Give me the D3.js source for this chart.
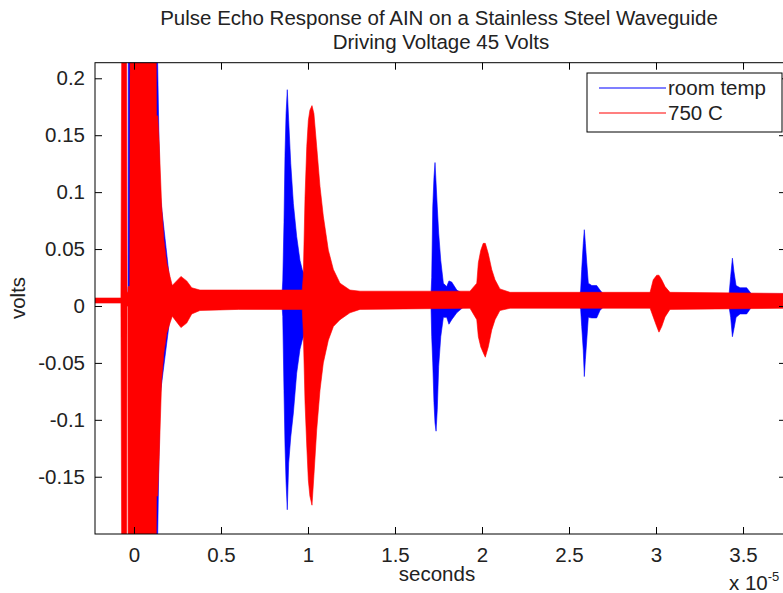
<!DOCTYPE html>
<html>
<head>
<meta charset="utf-8">
<script src="https://cdn.jsdelivr.net/npm/d3@7"></script>
<style>
  body { margin: 0; background: #fff; }
  text { font-family: "Liberation Sans", Arial, sans-serif; fill: #222; }
</style>
</head>
<body>
<svg width="783" height="593"></svg>
<script>
// time in units of 1e-5 s, envelope of the (dense) signal in volts
const roomTime = [-0.224, -0.075, -0.034, -0.032, -0.024, -0.022, 0.126, 0.149, 0.207, 0.264,
  0.851, 0.855, 0.862, 0.868, 0.874, 0.881, 0.889, 0.901, 0.916, 0.935, 0.954, 0.967, 1.000, 1.040,
  1.707, 1.711, 1.717, 1.724, 1.730, 1.736, 1.743, 1.751, 1.763, 1.778, 1.797, 1.810, 1.826, 1.855, 1.893,
  2.563, 2.567, 2.573, 2.582, 2.588, 2.594, 2.602, 2.611, 2.631, 2.659, 2.678, 2.697,
  3.420, 3.429, 3.439, 3.448, 3.460, 3.483, 3.521, 3.549, 3.760];
const roomUpper = [0.0065, 0.0065, 0.010, 0.30, 0.30, 0.30, 0.30, 0.10, 0.020, 0.011,
  0.011, 0.022, 0.073, 0.134, 0.169, 0.190, 0.163, 0.125, 0.090, 0.061, 0.040, 0.032, 0.020, 0.011,
  0.011, 0.025, 0.087, 0.113, 0.126, 0.108, 0.087, 0.064, 0.040, 0.020, 0.017, 0.022, 0.021, 0.014, 0.0105,
  0.0105, 0.014, 0.032, 0.055, 0.067, 0.055, 0.038, 0.020, 0.018, 0.018, 0.014, 0.0105,
  0.0105, 0.026, 0.042, 0.030, 0.018, 0.016, 0.016, 0.0105, 0.0105];
const roomLower = [0.003, 0.003, 0.000, 0.017, 0.017, -0.30, -0.30, -0.08, -0.010, -0.001,
  -0.001, -0.009, -0.074, -0.123, -0.155, -0.179, -0.138, -0.115, -0.094, -0.059, -0.038, -0.030, -0.015, -0.001,
  -0.001, -0.027, -0.050, -0.085, -0.103, -0.110, -0.091, -0.053, -0.027, -0.010, -0.010, -0.016, -0.012, -0.006, -0.001,
  -0.001, -0.003, -0.018, -0.039, -0.062, -0.047, -0.030, -0.010, -0.0105, -0.0105, -0.004, -0.001,
  -0.001, -0.010, -0.027, -0.020, -0.010, -0.007, -0.007, -0.001, -0.001];

const hotTime = [-0.224, -0.075, -0.069, -0.043, -0.040, -0.035, -0.033, -0.024, -0.022, 0.126,
  0.129, 0.136, 0.145, 0.159, 0.172, 0.188, 0.207, 0.220, 0.245, 0.270, 0.303, 0.332, 0.379, 0.600,
  0.967, 0.973, 0.983, 0.993, 1.002, 1.011, 1.023, 1.034, 1.050, 1.069, 1.088, 1.117, 1.146, 1.184, 1.241, 1.299,
  1.931, 1.970, 1.979, 1.993, 2.007, 2.019, 2.036, 2.056, 2.075, 2.103, 2.161,
  2.966, 2.984, 3.004, 3.017, 3.033, 3.052, 3.080, 3.760];
const hotUpper = [0.007, 0.007, 0.30, 0.30, 0.012, 0.012, 0.017, 0.017, 0.30, 0.30,
  0.167, 0.167, 0.143, 0.088, 0.058, 0.038, 0.026, 0.018, 0.022, 0.026, 0.022, 0.016, 0.014, 0.014,
  0.014, 0.026, 0.096, 0.140, 0.163, 0.172, 0.176, 0.169, 0.140, 0.105, 0.079, 0.049, 0.032, 0.020, 0.014, 0.013,
  0.013, 0.020, 0.038, 0.049, 0.055, 0.055, 0.046, 0.032, 0.023, 0.015, 0.012,
  0.012, 0.023, 0.027, 0.027, 0.023, 0.017, 0.012, 0.011];
const hotLower = [0.0026, 0.0026, -0.30, -0.30, 0.000, 0.000, -0.30, -0.30, -0.30, -0.30,
  -0.167, -0.167, -0.132, -0.065, -0.041, -0.024, -0.015, -0.009, -0.014, -0.019, -0.015, -0.007, -0.004, -0.003,
  -0.003, -0.022, -0.085, -0.123, -0.153, -0.167, -0.175, -0.149, -0.109, -0.074, -0.050, -0.030, -0.018, -0.012, -0.006, -0.003,
  -0.002, -0.012, -0.027, -0.036, -0.041, -0.045, -0.036, -0.021, -0.012, -0.004, -0.002,
  -0.002, -0.0096, -0.018, -0.023, -0.018, -0.0096, -0.003, -0.002];

const xTicks = [0, 0.5, 1, 1.5, 2, 2.5, 3, 3.5];
const yTicks = [-0.15, -0.1, -0.05, 0, 0.05, 0.1, 0.15, 0.2];
const seriesNames = ['room temp', '750 C'];
const seriesColors = ['#0000ff', '#ff0000'];

const svg = d3.select('svg');
const plotLeft = 95, plotRight = 786, plotTop = 62.7, plotBottom = 534;
const fontSize = 20.5;

const x = d3.scaleLinear().domain([-0.224, 3.747]).range([plotLeft, plotRight]);
const y = d3.scaleLinear().domain([-0.2003, 0.2137]).range([plotBottom, plotTop]);

svg.append('rect').attr('width', 783).attr('height', 593).attr('fill', '#fff');

svg.append('clipPath').attr('id', 'plot')
  .append('rect')
  .attr('x', plotLeft).attr('y', plotTop)
  .attr('width', plotRight - plotLeft).attr('height', plotBottom - plotTop);

const toRows = (t, hi, lo) => t.map((d, i) => ({ t: d, hi: hi[i], lo: lo[i] }));
const series = [toRows(roomTime, roomUpper, roomLower), toRows(hotTime, hotUpper, hotLower)];

const area = d3.area()
  .x((d) => x(d.t))
  .y0((d) => y(d.lo))
  .y1((d) => y(d.hi));

svg.append('g').attr('clip-path', 'url(#plot)')
  .selectAll('path')
  .data(series)
  .join('path')
  .attr('d', area)
  .attr('fill', (d, i) => seriesColors[i])
  .attr('stroke', (d, i) => seriesColors[i])
  .attr('stroke-width', 0.6);

// axes, ticks pointing inward on all four sides
const fmt = (d) => String(d);
const styleAxis = (g) => {
  g.select('.domain').remove();
  g.selectAll('line').attr('stroke', '#000');
  g.selectAll('text').attr('font-size', fontSize).attr('fill', '#222')
    .attr('font-family', '"Liberation Sans", Arial, sans-serif');
};

svg.append('g').attr('transform', `translate(0,${plotBottom})`)
  .call(d3.axisBottom(x).tickValues(xTicks).tickFormat(fmt).tickSizeInner(-7).tickPadding(13))
  .call(styleAxis);
svg.append('g').attr('transform', `translate(0,${plotTop})`)
  .call(d3.axisTop(x).tickValues(xTicks).tickFormat('').tickSizeInner(-7))
  .call(styleAxis);
svg.append('g').attr('transform', `translate(${plotLeft},0)`)
  .call(d3.axisLeft(y).tickValues(yTicks).tickFormat(fmt).tickSizeInner(-7).tickPadding(10))
  .call(styleAxis);
svg.append('g').attr('transform', `translate(${plotRight},0)`)
  .call(d3.axisRight(y).tickValues(yTicks).tickFormat('').tickSizeInner(-7))
  .call(styleAxis);

svg.append('rect')
  .attr('x', plotLeft).attr('y', plotTop)
  .attr('width', plotRight - plotLeft).attr('height', plotBottom - plotTop)
  .attr('fill', 'none').attr('stroke', '#000').attr('stroke-width', 1);

// titles and labels
svg.append('text').attr('x', 439).attr('y', 25).attr('text-anchor', 'middle')
  .attr('font-size', fontSize).text('Pulse Echo Response of AIN on a Stainless Steel Waveguide');
svg.append('text').attr('x', 441).attr('y', 49).attr('text-anchor', 'middle')
  .attr('font-size', fontSize).text('Driving Voltage 45 Volts');
svg.append('text').attr('x', 437).attr('y', 581).attr('text-anchor', 'middle')
  .attr('font-size', fontSize).text('seconds');
svg.append('text').attr('transform', 'translate(25,298) rotate(-90)').attr('text-anchor', 'middle')
  .attr('font-size', fontSize).text('volts');
const expo = svg.append('text').attr('x', 729).attr('y', 590).attr('font-size', fontSize);
expo.append('tspan').text('x 10');
expo.append('tspan').attr('dy', -9).attr('font-size', 13).text('-5');

// legend
const legend = svg.append('g').attr('transform', 'translate(587,73)');
legend.append('rect').attr('width', 195).attr('height', 59)
  .attr('fill', '#fff').attr('stroke', '#000');
const items = legend.selectAll('g.item')
  .data(seriesNames)
  .join('g')
  .attr('class', 'item')
  .attr('transform', (d, i) => `translate(0,${15 + i * 25})`);
items.append('line').attr('x1', 12).attr('x2', 79)
  .attr('stroke', (d, i) => seriesColors[i]).attr('stroke-width', 1.2);
items.append('text').attr('x', 81).attr('y', 7).attr('font-size', fontSize).text((d) => d);
</script>
</body>
</html>
